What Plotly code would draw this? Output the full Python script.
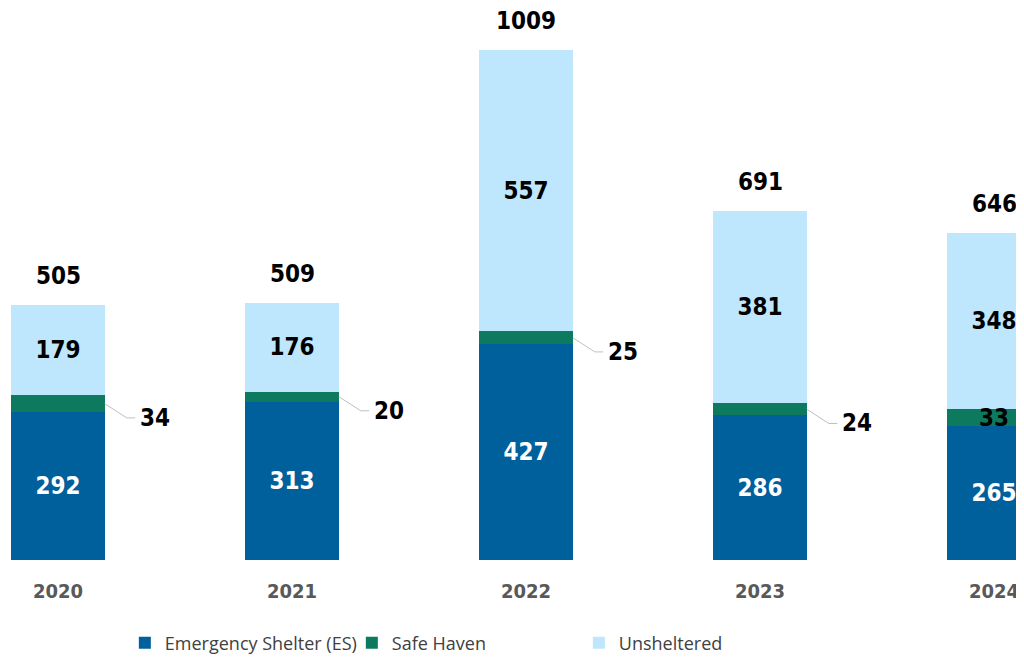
import plotly.graph_objects as go

YEARS = ["2020", "2021", "2022", "2023", "2024"]
EMERGENCY = [292, 313, 427, 286, 265]
SAFE_HAVEN = [34, 20, 25, 24, 33]
UNSHELTERED = [179, 176, 557, 381, 348]
TOTALS = [505, 509, 1009, 691, 646]

COLORS = {"es": "#00609c", "sh": "#0d7a60", "un": "#bee6fd"}
LABEL_FONT = "DejaVu Sans Condensed, DejaVu Sans, sans-serif"
BAR_WIDTH = 0.4

fig = go.Figure()
fig.add_trace(go.Bar(
    x=list(range(len(YEARS))), y=EMERGENCY, name="Emergency Shelter (ES)",
    marker={"color": COLORS["es"], "line": {"width": 0}}, width=BAR_WIDTH,
    text=[str(v) for v in EMERGENCY], textposition="inside", textangle=0,
    insidetextanchor="middle",
    insidetextfont={"family": LABEL_FONT, "size": 24, "color": "white", "weight": "bold"},
))
fig.add_trace(go.Bar(
    x=list(range(len(YEARS))), y=SAFE_HAVEN, name="Safe Haven",
    marker={"color": COLORS["sh"], "line": {"width": 0}}, width=BAR_WIDTH,
))
fig.add_trace(go.Bar(
    x=list(range(len(YEARS))), y=UNSHELTERED, name="Unsheltered",
    marker={"color": COLORS["un"], "line": {"width": 0}}, width=BAR_WIDTH,
    text=[str(v) for v in UNSHELTERED], textposition="inside", textangle=0,
    insidetextanchor="middle",
    insidetextfont={"family": LABEL_FONT, "size": 24, "color": "black", "weight": "bold"},
))

# leader lines for Safe Haven labels (all but the last year)
lx, ly = [], []
for i in range(len(YEARS) - 1):
    mid = EMERGENCY[i] + SAFE_HAVEN[i] / 2
    x0 = i + BAR_WIDTH / 2
    lx += [x0, x0 + 0.094, x0 + 0.13, None]
    ly += [mid, mid - 28, mid - 28, None]
    fig.add_annotation(x=x0 + 0.14, y=mid - 28, text=str(SAFE_HAVEN[i]), showarrow=False,
                       xanchor="left", yanchor="middle",
                       font={"family": LABEL_FONT, "size": 24, "color": "black", "weight": "bold"})
fig.add_trace(go.Scatter(x=lx, y=ly, mode="lines", line={"color": "#bfbfbf", "width": 1},
                         showlegend=False, hoverinfo="skip"))
last = len(YEARS) - 1
fig.add_annotation(x=last, y=EMERGENCY[last] + SAFE_HAVEN[last] / 2, text=str(SAFE_HAVEN[last]),
                   showarrow=False, font={"family": LABEL_FONT, "size": 24, "color": "black", "weight": "bold"})

for i, t in enumerate(TOTALS):
    fig.add_annotation(x=i, y=t, text=str(t), showarrow=False, yanchor="bottom", yshift=13,
                       font={"family": LABEL_FONT, "size": 24, "color": "black", "weight": "bold"})

fig.update_layout(
    barmode="stack",
    width=1016, height=649,
    margin={"l": 0, "r": 0, "t": 20, "b": 97, "autoexpand": False},
    paper_bgcolor="white", plot_bgcolor="white",
    showlegend=True,
    legend={"orientation": "h", "x": 0.115, "xanchor": "left", "y": -0.156, "yanchor": "middle",
            "entrywidth": 182, "font": {"family": "Open Sans", "size": 18, "color": "#404040"},
            "traceorder": "normal"},
)
fig.update_xaxes(range=[-0.2137, 4.128], tickvals=list(range(len(YEARS))), ticktext=YEARS,
                 ticks="outside", ticklen=13, tickcolor="rgba(0,0,0,0)", automargin=False,
                 tickfont={"family": LABEL_FONT, "size": 20, "color": "#595959", "weight": "bold"},
                 showgrid=False, zeroline=False, showline=False)
fig.update_yaxes(range=[0, 1052], visible=False, showgrid=False)

fig.write_html("out.html")
